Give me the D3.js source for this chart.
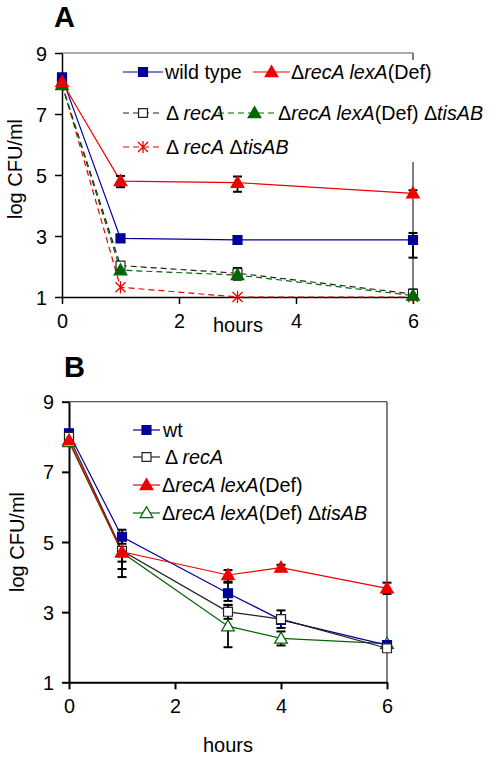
<!DOCTYPE html>
<html><head><meta charset="utf-8">
<script src="https://cdn.jsdelivr.net/npm/d3@7"></script>
<style>body{margin:0;background:#fff}svg{display:block}text{font-family:"Liberation Sans",Arial,sans-serif}</style>
</head><body>
<script>
// ---------- data ----------
const hoursA = [0, 1, 3, 6];
const wtA = [8.2, 2.92, 2.87, 2.87];
const wtA_up = [0, 0, 0, 0.23], wtA_dn = [0, 0, 0, 0.58];
const recLexA = [8.05, 4.8, 4.75, 4.4];
const recLexA_up = [0, 0.17, 0.2, 0.1], recLexA_dn = [0, 0.2, 0.3, 0.12];
const recA_A = [7.95, 2.03, 1.78, 1.1];
const recA_A_up = [0, 0.05, 0.17, 0.15], recA_A_dn = [0, 0.05, 0.2, 0.1];
const recLexTisA = [7.95, 1.88, 1.72, 1.05];
const recLexTisA_up = [0, 0.05, 0.1, 0.1], recLexTisA_dn = [0, 0.08, 0.15, 0.05];
const recTisA = [8.0, 1.32, 1.0, 1.0];

const hoursB = [0, 1, 3, 4, 6];
const wtB = [8.1, 5.15, 3.54, 2.78, 2.06];
const wtB_up = [0, 0.2, 0.3, 0.1, 0.1], wtB_dn = [0, 0.2, 0.22, 0.1, 0.05];
const recA_B = [8.0, 4.75, 3.01, 2.8, 1.97];
const recA_B_up = [0, 0.1, 0.2, 0.25, 0.05], recA_B_dn = [0, 0.31, 0.2, 0.25, 0.05];
const recLexB = [7.9, 4.72, 4.06, 4.27, 3.68];
const recLexB_up = [0, 0.1, 0.14, 0.08, 0.16], recLexB_dn = [0, 0.49, 0.19, 0.08, 0.16];
const recLexTisB = [7.85, 4.7, 2.6, 2.25, 2.1];
const recLexTisB_up = [0, 0.1, 0.6, 0.2, 0.05], recLexTisB_dn = [0, 0.7, 0.6, 0.2, 0.05];

const xTicks = [0, 2, 4, 6];
const yTicks = [1, 3, 5, 7, 9];

const BLUE = "#000099", RED = "#ee0000", GREEN = "#006600";

// ---------- drawing ----------
const svg = d3.select("body").append("svg").attr("width", 490).attr("height", 757);

function drawMarker(g, shape, x, y, s) {
  if (shape === "square") {
    g.append("path").attr("d", d3.symbol().type(d3.symbolSquare).size(80)()).attr("transform", `translate(${x},${y})`)
      .attr("fill", s.fill).attr("stroke", s.stroke).attr("stroke-width", 1.2);
  } else if (shape === "triangle") {
    g.append("path").attr("d", d3.symbol().type(d3.symbolTriangle).size(70)()).attr("transform", `translate(${x},${y + 1})`)
      .attr("fill", s.fill).attr("stroke", s.stroke).attr("stroke-width", 1.2);
  } else {
    const r = 5;
    g.append("path").attr("transform", `translate(${x},${y})`)
      .attr("d", `M${-r},${-r}L${r},${r}M${-r},${r}L${r},${-r}M0,${-r - 1}L0,${r + 1}`)
      .attr("stroke", s.stroke).attr("stroke-width", 1.3).attr("fill", "none");
  }
}

function panel(cfg) {
  const x = d3.scaleLinear().domain([0, 6]).range([cfg.x0, cfg.x1]);
  const y = d3.scaleLinear().domain([1, 9]).range([cfg.y1, cfg.y0]);
  const g = svg.append("g");

  g.append("line").attr("x1", cfg.x0).attr("x2", cfg.x1).attr("y1", cfg.y0).attr("y2", cfg.y0)
    .attr("stroke", "#555").attr("stroke-width", 1.2);
  g.append("line").attr("x1", cfg.x1).attr("x2", cfg.x1).attr("y1", cfg.y0).attr("y2", cfg.y1)
    .attr("stroke", "#555").attr("stroke-width", 1.5);

  const ax = g.append("g").attr("transform", `translate(0,${cfg.y1})`)
    .call(d3.axisBottom(x).tickValues(xTicks).tickFormat(d3.format("d")).tickSize(7).tickPadding(10).tickSizeOuter(0));
  const ay = g.append("g").attr("transform", `translate(${cfg.x0},0)`)
    .call(d3.axisLeft(y).tickValues(yTicks).tickFormat(d3.format("d")).tickSize(7).tickPadding(8).tickSizeOuter(0));
  [ax, ay].forEach(a => {
    a.selectAll("path,line").attr("stroke", "#000").attr("stroke-width", cfg.axisW);
    a.selectAll("text").attr("font-size", 19.8).attr("fill", "#000")
      .style("font-family", '"Liberation Sans",Arial,sans-serif');
  });
  ay.selectAll("text").attr("dy", "0.36em");
  ax.selectAll("text").attr("dy", "0.71em");

  const lineGen = d3.line().x(d => x(d[0])).y(d => y(d[1]));
  cfg.series.forEach(s => {
    const pts = cfg.hours.map((h, i) => [h, s.vals[i]]);
    g.append("path").attr("d", lineGen(pts)).attr("fill", "none").attr("stroke", s.line)
      .attr("stroke-width", 1.2).attr("stroke-dasharray", s.dash ? "6,4" : null);
  });
  cfg.series.forEach(s => {
    if (!s.up) return;
    cfg.hours.forEach((h, i) => {
      if (!s.up[i] && !s.dn[i]) return;
      const cx = x(h), ya = y(s.vals[i] + s.up[i]), yb = y(s.vals[i] - s.dn[i]);
      g.append("line").attr("x1", cx).attr("x2", cx).attr("y1", ya).attr("y2", yb).attr("stroke", "#000").attr("stroke-width", 1.8);
      [ya, yb].forEach(yy => g.append("line").attr("x1", cx - 4.5).attr("x2", cx + 4.5).attr("y1", yy).attr("y2", yy)
        .attr("stroke", "#000").attr("stroke-width", 2));
    });
  });
  cfg.series.forEach(s => {
    cfg.hours.forEach((h, i) => drawMarker(g, s.shape, x(h), y(s.vals[i]), s));
  });

  g.append("text").attr("x", cfg.labelX).attr("y", cfg.labelY).attr("font-size", 29).attr("font-weight", "bold").text(cfg.label);
  g.append("text").attr("transform", `translate(${cfg.ytX},${(cfg.y0 + cfg.y1) / 2 - cfg.ytShift}) rotate(-90)`)
    .attr("text-anchor", "middle").attr("font-size", 20).text("log CFU/ml");
  g.append("text").attr("x", cfg.hoursX).attr("y", cfg.hoursY).attr("text-anchor", "middle").attr("font-size", 20).text("hours");

  const lg = svg.append("g");
  if (cfg.legendBg) lg.append("rect").attr("x", cfg.legendBg[0]).attr("y", cfg.legendBg[1])
    .attr("width", cfg.legendBg[2]).attr("height", cfg.legendBg[3]).attr("fill", "#fff");
  cfg.legend.forEach(l => {
    const s = l.s;
    lg.append("line").attr("x1", l.lx0).attr("x2", l.lx1).attr("y1", l.y).attr("y2", l.y)
      .attr("stroke", s.line).attr("stroke-width", 1.2).attr("stroke-dasharray", s.dash ? "6,4" : null);
    drawMarker(lg, s.shape, (l.lx0 + l.lx1) / 2 + (l.mOff || 0), l.y, s);
    const t = lg.append("text").attr("x", l.tx).attr("y", l.y + 7).attr("font-size", 19.7);
    l.parts.forEach(p => t.append("tspan").attr("font-style", p[1] ? "italic" : null).text(p[0]));
  });
}

const sWtA = { vals: wtA, up: wtA_up, dn: wtA_dn, shape: "square", fill: BLUE, stroke: BLUE, line: BLUE };
const sRecLexA = { vals: recLexA, up: recLexA_up, dn: recLexA_dn, shape: "triangle", fill: RED, stroke: RED, line: RED };
const sRecA_A = { vals: recA_A, up: recA_A_up, dn: recA_A_dn, shape: "square", fill: "#fff", stroke: "#222", line: "#222", dash: true };
const sRecLexTisA = { vals: recLexTisA, up: recLexTisA_up, dn: recLexTisA_dn, shape: "triangle", fill: GREEN, stroke: GREEN, line: GREEN, dash: true };
const sRecTisA = { vals: recTisA, shape: "star", fill: "none", stroke: RED, line: RED, dash: true };

const nm = {
  wild: [["wild type", false]],
  recLex: [["Δ", false], ["recA lexA", true], ["(Def)", false]],
  recA: [["Δ ", false], ["recA", true]],
  recLexTis: [["Δ", false], ["recA lexA", true], ["(Def) Δ", false], ["tisAB", true]],
  recTis: [["Δ ", false], ["recA", true], [" Δ", false], ["tisAB", true]],
  wt: [["wt", false]]
};

panel({
  x0: 62, x1: 413, y0: 53, y1: 297, axisW: 1.5, hours: hoursA,
  series: [sRecTisA, sRecA_A, sRecLexTisA, sWtA, sRecLexA],
  label: "A", labelX: 54, labelY: 27, ytX: 22, ytShift: 6, hoursX: 238, hoursY: 332,
  legendBg: [118, 60, 372, 102],
  legend: [
    { s: sWtA, lx0: 123, lx1: 163, y: 72, tx: 165, parts: nm.wild },
    { s: sRecLexA, lx0: 253, lx1: 290, y: 72, tx: 291, parts: nm.recLex },
    { s: sRecA_A, lx0: 123, lx1: 163, y: 113, tx: 166, parts: nm.recA },
    { s: sRecLexTisA, lx0: 218, lx1: 277, y: 113, tx: 278, mOff: 7, parts: nm.recLexTis },
    { s: sRecTisA, lx0: 123, lx1: 163, y: 147, tx: 166, parts: nm.recTis }
  ]
});

const sWtB = { vals: wtB, up: wtB_up, dn: wtB_dn, shape: "square", fill: BLUE, stroke: BLUE, line: BLUE };
const sRecA_B = { vals: recA_B, up: recA_B_up, dn: recA_B_dn, shape: "square", fill: "#fff", stroke: "#222", line: "#222" };
const sRecLexB = { vals: recLexB, up: recLexB_up, dn: recLexB_dn, shape: "triangle", fill: RED, stroke: RED, line: RED };
const sRecLexTisB = { vals: recLexTisB, up: recLexTisB_up, dn: recLexTisB_dn, shape: "triangle", fill: "#fff", stroke: GREEN, line: GREEN };

panel({
  x0: 69, x1: 387, y0: 401.7, y1: 682.3, axisW: 2, hours: hoursB,
  series: [sRecLexTisB, sWtB, sRecA_B, sRecLexB],
  label: "B", labelX: 64, labelY: 377, ytX: 24, ytShift: 0, hoursX: 228, hoursY: 752,
  legend: [
    { s: sWtB, lx0: 133, lx1: 160, y: 430, tx: 163, parts: nm.wt },
    { s: sRecA_B, lx0: 133, lx1: 160, y: 457, tx: 165, parts: nm.recA },
    { s: sRecLexB, lx0: 133, lx1: 160, y: 485, tx: 162, parts: nm.recLex },
    { s: sRecLexTisB, lx0: 133, lx1: 160, y: 513, tx: 162, parts: nm.recLexTis }
  ]
});
</script>
</body></html>
